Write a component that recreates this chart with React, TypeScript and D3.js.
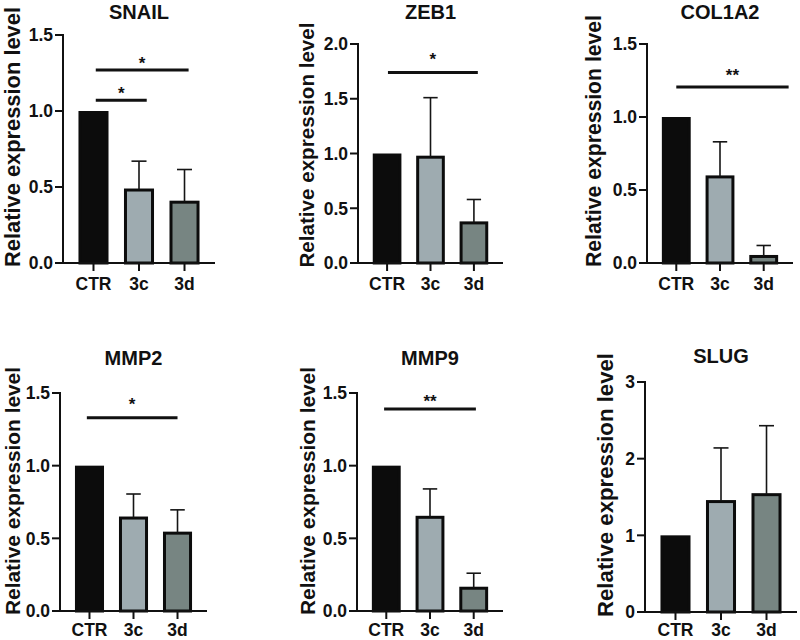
import React from "react";
import * as d3 from "d3";

// ---------- data ----------
const groups = ["CTR", "3c", "3d"];
const genes = ["SNAIL", "ZEB1", "COL1A2", "MMP2", "MMP9", "SLUG"];

const snailMean = [1.0, 0.49, 0.41];
const snailErr = [0, 0.18, 0.205];
const zeb1Mean = [1.0, 0.98, 0.38];
const zeb1Err = [0, 0.53, 0.2];
const col1a2Mean = [1.0, 0.6, 0.055];
const col1a2Err = [0, 0.23, 0.065];
const mmp2Mean = [1.0, 0.65, 0.546];
const mmp2Err = [0, 0.155, 0.15];
const mmp9Mean = [1.0, 0.655, 0.167];
const mmp9Err = [0, 0.185, 0.093];
const slugMean = [1.0, 1.46, 1.55];
const slugErr = [0, 0.68, 0.88];

const snailTicks = [0, 0.5, 1.0, 1.5];
const zeb1Ticks = [0, 0.5, 1.0, 1.5, 2.0];
const col1a2Ticks = [0, 0.5, 1.0, 1.5];
const mmp2Ticks = [0, 0.5, 1.0, 1.5];
const mmp9Ticks = [0, 0.5, 1.0, 1.5];
const slugTicks = [0, 1, 2, 3];

// significance brackets: from/to in category index units, y in data units
const snailSig = [
  { from: 0.05, to: 2.09, y: 1.27, starY: 1.34, label: "*" },
  { from: 0.05, to: 1.17, y: 1.07, starY: 1.14, label: "*" },
];
const zeb1Sig = [{ from: 0.02, to: 2.09, y: 1.74, starY: 1.895, label: "*" }];
const col1a2Sig = [{ from: 0.0, to: 2.57, y: 1.205, starY: 1.31, label: "**" }];
const mmp2Sig = [{ from: -0.06, to: 2.0, y: 1.33, starY: 1.45, label: "*" }];
const mmp9Sig = [{ from: -0.05, to: 2.05, y: 1.39, starY: 1.47, label: "**" }];
const slugSig: { from: number; to: number; y: number; starY: number; label: string }[] = [];

const means = [snailMean, zeb1Mean, col1a2Mean, mmp2Mean, mmp9Mean, slugMean];
const errs = [snailErr, zeb1Err, col1a2Err, mmp2Err, mmp9Err, slugErr];
const ticks = [snailTicks, zeb1Ticks, col1a2Ticks, mmp2Ticks, mmp9Ticks, slugTicks];
const sigs = [snailSig, zeb1Sig, col1a2Sig, mmp2Sig, mmp9Sig, slugSig];
const tickDecimals = [1, 1, 1, 1, 1, 0];

// ---------- layout (pixels) ----------
const layout = [
  { axisX: 63, axisEnd: 215, y0: 263, yTop: 35, titleY: 18.5, labX: 20, labY: 137, labLen: 260, xlabOff: 27 },
  { axisX: 358, axisEnd: 503, y0: 263, yTop: 44, titleY: 18.5, labX: 314, labY: 145, labLen: 245, xlabOff: 27 },
  { axisX: 647, axisEnd: 793, y0: 263, yTop: 44, titleY: 18.5, labX: 601, labY: 141, labLen: 252, xlabOff: 27 },
  { axisX: 60, axisEnd: 207, y0: 611, yTop: 393, titleY: 365, labX: 19.5, labY: 491, labLen: 248, xlabOff: 24.5 },
  { axisX: 357, axisEnd: 503, y0: 611, yTop: 393, titleY: 365, labX: 315, labY: 491, labLen: 248, xlabOff: 24.5 },
  { axisX: 645, axisEnd: 797, y0: 612, yTop: 382, titleY: 363, labX: 613, labY: 485, labLen: 264, xlabOff: 23.5 },
];

const fills = ["#0c0c0c", "#9eabb0", "#778582"];
const FONT = "'Liberation Sans', Arial, Helvetica, sans-serif";

function Panel({ idx }: { idx: number }) {
  const L = layout[idx];
  const m = means[idx];
  const e = errs[idx];
  const tk = ticks[idx];
  const y = d3
    .scaleLinear()
    .domain([0, tk[tk.length - 1]])
    .range([L.y0, L.yTop]);
  const x = d3
    .scaleBand<string>()
    .domain(groups)
    .range([L.axisX, L.axisEnd])
    .paddingInner(0.34)
    .paddingOuter(0.34);
  const bw = x.bandwidth();
  const center = (g: string) => (x(g) as number) + bw / 2;
  const idxToX = d3
    .scaleLinear()
    .domain([0, groups.length - 1])
    .range([center(groups[0]), center(groups[groups.length - 1])]);
  const fmt = d3.format(`.${tickDecimals[idx]}f`);
  const sw = 3;
  const fs = L.labLen / 11.9;

  return (
    <g>
      <text
        x={(L.axisX + L.axisEnd) / 2}
        y={L.titleY}
        textAnchor="middle"
        fontFamily={FONT}
        fontWeight="bold"
        fontSize={20}
        fill="#111"
      >
        {genes[idx]}
      </text>
      <text
        transform={`translate(${L.labX},${L.labY}) rotate(-90)`}
        textAnchor="middle"
        fontFamily={FONT}
        fontWeight="bold"
        fontSize={fs}
        textLength={L.labLen}
        lengthAdjust="spacingAndGlyphs"
        fill="#111"
      >
        Relative expression level
      </text>
      {/* bars */}
      {groups.map((g, i) => {
        const top = y(m[i]);
        return (
          <rect
            key={g}
            x={(x(g) as number) + sw / 2}
            y={top + sw / 2}
            width={bw - sw}
            height={L.y0 - top - sw / 2}
            fill={fills[i]}
            stroke="#0c0c0c"
            strokeWidth={sw}
          />
        );
      })}
      {/* error bars */}
      {groups.map((g, i) => {
        if (!e[i]) return null;
        const cx = center(g);
        const t = y(m[i] + e[i]);
        return (
          <g key={"e" + g} stroke="#151515" strokeWidth={1.6}>
            <line x1={cx} x2={cx} y1={y(m[i]) + 1} y2={t} />
            <line x1={cx - bw / 4} x2={cx + bw / 4} y1={t} y2={t} />
          </g>
        );
      })}
      {/* y axis */}
      <line x1={L.axisX} x2={L.axisX} y1={L.yTop - 1} y2={L.y0 + 1} stroke="#111" strokeWidth={2} />
      {tk.map((t) => (
        <g key={"yt" + t}>
          <line x1={L.axisX - 8} x2={L.axisX} y1={y(t)} y2={y(t)} stroke="#111" strokeWidth={2} />
          <text
            x={L.axisX - 10}
            y={y(t)}
            dy="0.36em"
            textAnchor="end"
            fontFamily={FONT}
            fontWeight="bold"
            fontSize={17.5}
            fill="#111"
          >
            {fmt(t)}
          </text>
        </g>
      ))}
      {/* x axis */}
      <line x1={L.axisX - 1} x2={L.axisEnd} y1={L.y0} y2={L.y0} stroke="#111" strokeWidth={2} />
      {groups.map((g) => (
        <g key={"xt" + g}>
          <line x1={center(g)} x2={center(g)} y1={L.y0} y2={L.y0 + 8} stroke="#111" strokeWidth={2} />
          <text
            x={center(g)}
            y={L.y0 + L.xlabOff}
            textAnchor="middle"
            fontFamily={FONT}
            fontWeight="bold"
            fontSize={17.5}
            fill="#111"
          >
            {g}
          </text>
        </g>
      ))}
      {/* significance */}
      {sigs[idx].map((s, k) => (
        <g key={"s" + k}>
          <line
            x1={idxToX(s.from)}
            x2={idxToX(s.to)}
            y1={y(s.y)}
            y2={y(s.y)}
            stroke="#111"
            strokeWidth={3}
          />
          <text
            x={(idxToX(s.from) + idxToX(s.to)) / 2}
            y={y(s.starY) + 9.5}
            textAnchor="middle"
            fontFamily={FONT}
            fontWeight="bold"
            fontSize={17}
            fill="#111"
          >
            {s.label}
          </text>
        </g>
      ))}
    </g>
  );
}

export default function App() {
  return (
    <svg
      width={800}
      height={640}
      viewBox="0 0 800 640"
      style={{ position: "absolute", left: 0, top: 0, background: "#fff", display: "block" }}
    >
      <rect x={0} y={0} width={800} height={640} fill="#fff" />
      {genes.map((_, i) => (
        <Panel key={i} idx={i} />
      ))}
    </svg>
  );
}
